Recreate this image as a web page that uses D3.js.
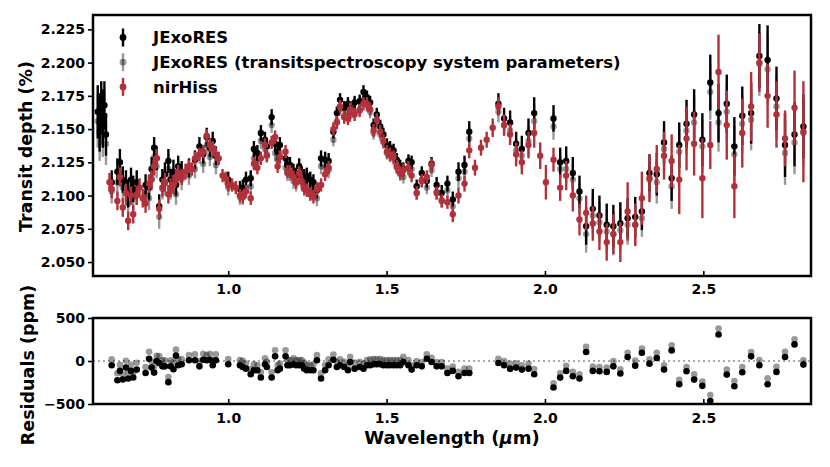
<!DOCTYPE html>
<html>
<head>
<meta charset="utf-8">
<script src="https://cdn.jsdelivr.net/npm/d3@7/dist/d3.min.js"></script>
<style>
  body { margin: 0; background: #fff; }
  svg { font-family: "DejaVu Sans", sans-serif; font-weight: bold; }
</style>
</head>
<body>
<svg id="chart" width="830" height="467"></svg>
<script>
// [wavelength um, transit depth %, 1-sigma error]
const jexo = [
  [0.588,2.163,.020],[0.594,2.155,.022],[0.599,2.166,.020],[0.604,2.158,.022],[0.609,2.168,.018],[0.614,2.146,.016],
  [0.632,2.110,.009],[0.650,2.118,.010],[0.658,2.125,.010],[0.667,2.112,.010],[0.677,2.110,.009],[0.684,2.101,.010],
  [0.693,2.112,.009],[0.700,2.105,.010],[0.711,2.110,.009],[0.739,2.108,.008],[0.750,2.106,.009],[0.758,2.120,.009],
  [0.766,2.136,.008],[0.774,2.128,.009],[0.782,2.092,.009],[0.792,2.112,.008],[0.800,2.116,.009],[0.811,2.126,.009],
  [0.818,2.112,.008],[0.827,2.118,.009],[0.835,2.108,.008],[0.842,2.122,.008],[0.853,2.118,.008],[0.876,2.121,.007],
  [0.895,2.127,.007],[0.909,2.137,.007],[0.921,2.131,.007],[0.932,2.144,.007],[0.942,2.136,.007],[0.951,2.141,.007],
  [0.961,2.130,.007],[1.000,2.112,.006],
  [1.037,2.105,.006],[1.046,2.106,.006],[1.056,2.112,.006],[1.071,2.113,.006],[1.081,2.135,.006],[1.092,2.132,.006],
  [1.103,2.147,.006],[1.116,2.142,.006],[1.122,2.137,.006],[1.137,2.159,.006],[1.148,2.139,.006],[1.156,2.133,.006],
  [1.163,2.138,.006],[1.181,2.128,.006],[1.187,2.123,.006],[1.195,2.123,.006],[1.206,2.118,.006],[1.214,2.115,.006],
  [1.224,2.122,.006],[1.232,2.116,.006],[1.240,2.114,.006],[1.248,2.115,.006],[1.259,2.112,.006],[1.269,2.110,.006],
  [1.280,2.104,.006],[1.293,2.128,.006],[1.306,2.127,.006],[1.317,2.126,.006],[1.332,2.148,.005],[1.343,2.162,.005],
  [1.353,2.172,.005],[1.366,2.166,.005],[1.378,2.169,.005],[1.385,2.166,.005],[1.399,2.170,.005],[1.415,2.171,.005],
  [1.427,2.178,.005],[1.438,2.174,.005],[1.448,2.170,.005],[1.459,2.153,.005],[1.469,2.161,.005],[1.480,2.152,.005],
  [1.490,2.146,.005],[1.501,2.138,.005],[1.511,2.136,.005],[1.522,2.134,.005],[1.532,2.127,.005],[1.543,2.122,.005],
  [1.553,2.120,.005],[1.569,2.126,.005],[1.579,2.125,.005],[1.595,2.107,.005],[1.611,2.117,.005],[1.627,2.111,.005],
  [1.642,2.124,.005],[1.658,2.108,.006],[1.674,2.102,.006],[1.692,2.109,.006],[1.709,2.097,.006],[1.727,2.118,.007],
  [1.746,2.123,.007],[1.761,2.148,.008],
  [1.853,2.169,.008],[1.871,2.158,.008],[1.890,2.155,.009],[1.909,2.139,.009],[1.927,2.135,.010],[1.948,2.147,.011],
  [1.966,2.162,.012],
  [2.027,2.158,.010],[2.048,2.125,.011],[2.067,2.126,.011],[2.088,2.117,.012],[2.109,2.103,.012],[2.130,2.077,.014],
  [2.151,2.090,.015],[2.172,2.085,.015],[2.195,2.078,.016],[2.216,2.077,.016],[2.238,2.079,.016],[2.261,2.083,.015],
  [2.285,2.084,.015],[2.306,2.088,.014],[2.330,2.117,.014],[2.353,2.116,.016],[2.376,2.140,.016],[2.400,2.113,.017],
  [2.424,2.138,.017],[2.447,2.154,.018],[2.471,2.161,.019],[2.497,2.142,.020],[2.522,2.185,.021],[2.548,2.162,.022],
  [2.574,2.169,.022],[2.598,2.137,.022],[2.623,2.160,.022],[2.651,2.162,.023],[2.677,2.205,.024],[2.703,2.202,.026],
  [2.731,2.173,.024],[2.758,2.138,.024],[2.788,2.146,.024],[2.816,2.152,.024]
];

const jexoAlt = [
  [0.588,2.156,.020],[0.594,2.148,.022],[0.599,2.158,.020],[0.604,2.151,.022],[0.609,2.160,.018],[0.614,2.139,.016],
  [0.632,2.103,.009],[0.650,2.110,.010],[0.658,2.118,.010],[0.667,2.106,.010],[0.677,2.102,.009],[0.684,2.094,.010],
  [0.693,2.105,.009],[0.700,2.099,.010],[0.711,2.102,.009],[0.739,2.101,.008],[0.750,2.098,.009],[0.758,2.113,.009],
  [0.766,2.129,.008],[0.774,2.122,.009],[0.782,2.084,.009],[0.792,2.105,.008],[0.800,2.109,.009],[0.811,2.120,.009],
  [0.818,2.105,.008],[0.827,2.110,.009],[0.835,2.101,.008],[0.842,2.115,.008],[0.853,2.112,.008],[0.876,2.115,.007],
  [0.895,2.120,.007],[0.909,2.131,.007],[0.921,2.124,.007],[0.932,2.138,.007],[0.942,2.129,.007],[0.951,2.135,.007],
  [0.961,2.123,.007],[1.000,2.106,.006],
  [1.037,2.099,.006],[1.046,2.099,.006],[1.056,2.106,.006],[1.071,2.107,.006],[1.081,2.128,.006],[1.092,2.126,.006],
  [1.103,2.141,.006],[1.116,2.135,.006],[1.122,2.131,.006],[1.137,2.153,.006],[1.148,2.132,.006],[1.156,2.127,.006],
  [1.163,2.132,.006],[1.181,2.121,.006],[1.187,2.117,.006],[1.195,2.117,.006],[1.206,2.111,.006],[1.214,2.109,.006],
  [1.224,2.116,.006],[1.232,2.110,.006],[1.240,2.107,.006],[1.248,2.109,.006],[1.259,2.106,.006],[1.269,2.103,.006],
  [1.280,2.098,.006],[1.293,2.122,.006],[1.306,2.121,.006],[1.317,2.119,.006],[1.332,2.142,.005],[1.343,2.156,.005],
  [1.353,2.165,.005],[1.366,2.160,.005],[1.378,2.163,.005],[1.385,2.160,.005],[1.399,2.163,.005],[1.415,2.165,.005],
  [1.427,2.172,.005],[1.438,2.168,.005],[1.448,2.163,.005],[1.459,2.147,.005],[1.469,2.155,.005],[1.480,2.146,.005],
  [1.490,2.140,.005],[1.501,2.132,.005],[1.511,2.130,.005],[1.522,2.128,.005],[1.532,2.121,.005],[1.543,2.116,.005],
  [1.553,2.114,.005],[1.569,2.120,.005],[1.579,2.120,.005],[1.595,2.102,.005],[1.611,2.112,.005],[1.627,2.106,.005],
  [1.642,2.119,.005],[1.658,2.103,.006],[1.674,2.097,.006],[1.692,2.104,.006],[1.709,2.092,.006],[1.727,2.113,.007],
  [1.746,2.118,.007],[1.761,2.143,.008],
  [1.853,2.163,.008],[1.871,2.153,.008],[1.890,2.149,.009],[1.909,2.134,.009],[1.927,2.130,.010],[1.948,2.141,.011],
  [1.966,2.156,.012],
  [2.027,2.152,.010],[2.048,2.120,.011],[2.067,2.120,.011],[2.088,2.112,.012],[2.109,2.098,.012],[2.130,2.071,.014],
  [2.151,2.085,.015],[2.172,2.080,.015],[2.195,2.073,.016],[2.216,2.071,.016],[2.238,2.074,.016],[2.261,2.078,.015],
  [2.285,2.078,.015],[2.306,2.083,.014],[2.330,2.112,.014],[2.353,2.110,.016],[2.376,2.135,.016],[2.400,2.107,.017],
  [2.424,2.133,.017],[2.447,2.149,.018],[2.471,2.155,.019],[2.497,2.137,.020],[2.522,2.178,.021],[2.548,2.155,.022],
  [2.574,2.163,.022],[2.598,2.131,.022],[2.623,2.154,.022],[2.651,2.157,.023],[2.677,2.199,.024],[2.703,2.195,.026],
  [2.731,2.167,.024],[2.758,2.132,.024],[2.788,2.140,.024],[2.816,2.147,.024]
];

const nirhiss = [
  [0.625,2.110,.007],[0.632,2.105,.007],[0.650,2.096,.007],[0.658,2.114,.007],[0.667,2.091,.007],[0.677,2.102,.007],
  [0.684,2.081,.007],[0.693,2.100,.007],[0.700,2.086,.007],[0.711,2.100,.007],[0.720,2.106,.007],[0.730,2.098,.007],
  [0.739,2.094,.007],[0.750,2.109,.007],[0.758,2.112,.007],[0.766,2.122,.007],[0.774,2.128,.007],[0.782,2.090,.007],
  [0.792,2.106,.007],[0.800,2.110,.007],[0.811,2.101,.007],[0.818,2.106,.007],[0.827,2.108,.007],[0.835,2.114,.006],
  [0.842,2.117,.006],[0.853,2.114,.006],[0.865,2.118,.006],[0.876,2.122,.005],[0.885,2.120,.005],[0.895,2.128,.005],
  [0.909,2.131,.005],[0.921,2.133,.005],[0.932,2.145,.005],[0.942,2.138,.005],[0.951,2.136,.005],[0.961,2.131,.005],
  [0.970,2.128,.005],[0.982,2.115,.005],[0.992,2.113,.005],[1.000,2.108,.005],[1.012,2.108,.005],[1.024,2.106,.005],
  [1.037,2.100,.005],[1.046,2.099,.005],[1.056,2.103,.005],[1.071,2.098,.005],[1.081,2.124,.005],[1.092,2.121,.005],
  [1.103,2.128,.005],[1.116,2.138,.005],[1.122,2.130,.005],[1.137,2.140,.005],[1.148,2.144,.005],[1.156,2.122,.005],
  [1.163,2.129,.005],[1.181,2.133,.005],[1.187,2.118,.005],[1.195,2.118,.005],[1.206,2.114,.005],[1.214,2.110,.005],
  [1.224,2.117,.005],[1.232,2.111,.005],[1.240,2.105,.005],[1.248,2.104,.005],[1.259,2.101,.005],[1.269,2.099,.005],
  [1.280,2.105,.005],[1.293,2.108,.005],[1.306,2.116,.005],[1.317,2.121,.005],[1.332,2.150,.005],[1.343,2.155,.005],
  [1.353,2.167,.005],[1.366,2.159,.005],[1.378,2.158,.005],[1.385,2.165,.005],[1.399,2.161,.005],[1.415,2.164,.005],
  [1.427,2.169,.005],[1.438,2.169,.005],[1.448,2.165,.005],[1.459,2.149,.005],[1.469,2.157,.005],[1.480,2.148,.005],
  [1.490,2.141,.005],[1.501,2.133,.005],[1.511,2.131,.005],[1.522,2.129,.005],[1.532,2.122,.005],[1.543,2.117,.005],
  [1.553,2.119,.005],[1.569,2.121,.005],[1.579,2.115,.005],[1.595,2.102,.005],[1.611,2.111,.005],[1.627,2.114,.005],
  [1.642,2.123,.005],[1.658,2.102,.005],[1.674,2.096,.005],[1.692,2.095,.005],[1.709,2.086,.006],[1.727,2.100,.006],
  [1.746,2.109,.006],[1.761,2.134,.006],[1.779,2.121,.006],[1.798,2.136,.006],[1.816,2.142,.006],[1.835,2.151,.007],
  [1.853,2.167,.007],[1.871,2.153,.008],[1.890,2.146,.008],[1.909,2.131,.009],[1.927,2.125,.009],[1.948,2.138,.010],
  [1.966,2.147,.011],[1.985,2.130,.010],[2.003,2.110,.013],
  [2.027,2.127,.009],[2.048,2.106,.010],[2.067,2.115,.011],[2.088,2.100,.012],[2.109,2.082,.012],[2.130,2.087,.013],
  [2.151,2.079,.013],[2.172,2.073,.014],[2.195,2.065,.014],[2.216,2.071,.015],[2.238,2.065,.015],[2.261,2.088,.022],
  [2.285,2.078,.016],[2.306,2.098,.020],[2.330,2.113,.018],[2.353,2.120,.018],[2.376,2.130,.018],[2.400,2.126,.020],
  [2.424,2.112,.026],[2.447,2.143,.024],[2.471,2.139,.024],[2.497,2.113,.030],[2.522,2.138,.018],[2.548,2.193,.028],
  [2.574,2.153,.026],[2.598,2.107,.024],[2.623,2.147,.026],[2.651,2.167,.026],[2.677,2.200,.022],[2.703,2.175,.024],
  [2.731,2.161,.025],[2.758,2.143,.021],[2.788,2.166,.028],[2.816,2.148,.038]
];

// residuals in ppm, [wavelength um, ppm]
const resJexo = [
  [0.632,-50],[0.650,-223],[0.658,-115],[0.667,-215],[0.677,-77],[0.684,-204],[0.693,-115],[0.700,-192],[0.711,-100],
  [0.739,-139],[0.750,27],[0.758,-77],[0.766,-135],[0.774,0],[0.782,-23],[0.792,-62],[0.800,-62],[0.811,-246],
  [0.818,-62],[0.827,-96],[0.835,62],[0.842,-50],[0.853,-38],[0.876,8],[0.895,8],[0.909,-62],[0.921,15],[0.932,8],
  [0.942,15],[0.951,-50],[0.961,8],[1.000,-38],
  [1.037,-50],[1.046,-69],[1.056,-89],[1.071,-154],[1.081,-108],[1.092,-108],[1.103,-192],[1.116,-38],[1.122,-69],
  [1.137,-192],[1.148,54],[1.156,-108],[1.163,-89],[1.181,54],[1.187,-50],[1.195,-50],[1.206,-38],[1.214,-50],
  [1.224,-50],[1.232,-50],[1.240,-89],[1.248,-108],[1.259,-108],[1.269,-108],[1.280,8],[1.293,-204],[1.306,-108],
  [1.317,-50],[1.332,15],[1.343,-69],[1.353,-50],[1.366,-69],[1.378,-108],[1.385,-12],[1.399,-89],[1.415,-69],
  [1.427,-89],[1.438,-50],[1.448,-50],[1.459,-38],[1.469,-38],[1.480,-38],[1.490,-50],[1.501,-50],[1.511,-50],
  [1.522,-50],[1.532,-50],[1.543,-50],[1.553,-12],[1.569,-50],[1.579,-100],[1.595,-50],[1.611,-62],[1.627,27],
  [1.642,-12],[1.658,-62],[1.674,-62],[1.692,-139],[1.709,-115],[1.727,-177],[1.746,-139],[1.761,-139],
  [1.853,-23],[1.871,-50],[1.890,-89],[1.909,-77],[1.927,-100],[1.948,-89],[1.966,-154],
  [2.027,-308],[2.048,-193],[2.067,-115],[2.088,-177],[2.109,-204],[2.130,104],[2.151,-115],[2.172,-119],[2.195,-127],
  [2.216,-62],[2.238,-146],[2.261,46],[2.285,-54],[2.306,96],[2.330,-31],[2.353,35],[2.376,-100],[2.400,123],
  [2.424,-270],[2.447,-119],[2.471,-216],[2.497,-289],[2.522,-466],[2.548,308],[2.574,-158],[2.598,-293],[2.623,-131],
  [2.651,54],[2.677,-50],[2.703,-270],[2.731,-127],[2.758,46],[2.788,193],[2.816,-42]
];

const resAlt = [
  [0.632,20],[0.650,-143],[0.658,-45],[0.667,-155],[0.677,3],[0.684,-134],[0.693,-45],[0.700,-132],[0.711,-20],
  [0.739,-69],[0.750,107],[0.758,-7],[0.766,-65],[0.774,60],[0.782,57],[0.792,8],[0.800,8],[0.811,-186],
  [0.818,8],[0.827,-16],[0.835,132],[0.842,20],[0.853,22],[0.876,68],[0.895,78],[0.909,-2],[0.921,85],[0.932,68],
  [0.942,85],[0.951,10],[0.961,78],[1.000,22],
  [1.037,10],[1.046,1],[1.056,-29],[1.071,-94],[1.081,-38],[1.092,-48],[1.103,-132],[1.116,32],[1.122,-9],
  [1.137,-132],[1.148,124],[1.156,-48],[1.163,-29],[1.181,124],[1.187,10],[1.195,10],[1.206,32],[1.214,10],
  [1.224,10],[1.232,10],[1.240,-19],[1.248,-48],[1.259,-48],[1.269,-38],[1.280,68],[1.293,-144],[1.306,-48],
  [1.317,20],[1.332,75],[1.343,-9],[1.353,20],[1.366,-9],[1.378,-48],[1.385,48],[1.399,-19],[1.415,-9],
  [1.427,-29],[1.438,10],[1.448,20],[1.459,22],[1.469,22],[1.480,22],[1.490,10],[1.501,10],[1.511,10],
  [1.522,10],[1.532,10],[1.543,10],[1.553,48],[1.569,10],[1.579,-50],[1.595,0],[1.611,-12],[1.627,77],
  [1.642,38],[1.658,-12],[1.674,-12],[1.692,-89],[1.709,-65],[1.727,-127],[1.746,-89],[1.761,-89],
  [1.853,27],[1.871,0],[1.890,-29],[1.909,-27],[1.927,-50],[1.948,-29],[1.966,-94],
  [2.027,-258],[2.048,-143],[2.067,-55],[2.088,-127],[2.109,-154],[2.130,164],[2.151,-65],[2.172,-69],[2.195,-77],
  [2.216,-2],[2.238,-96],[2.261,96],[2.285,6],[2.306,146],[2.330,19],[2.353,95],[2.376,-50],[2.400,183],
  [2.424,-220],[2.447,-69],[2.471,-156],[2.497,-239],[2.522,-396],[2.548,378],[2.574,-98],[2.598,-233],[2.623,-71],
  [2.651,104],[2.677,10],[2.703,-200],[2.731,-67],[2.758,106],[2.788,253],[2.816,8]
];

const depthTicks = [2.050, 2.075, 2.100, 2.125, 2.150, 2.175, 2.200, 2.225];
const wlTicks = [1.0, 1.5, 2.0, 2.5];
const resTicks = [-500, 0, 500];
const seriesNames = ["JExoRES", "JExoRES (transitspectroscopy system parameters)", "nirHiss"];

const red = "#b3303a";
const svg = d3.select("#chart");
const main = { left: 93, right: 811, top: 15, bottom: 276 };
const bot = { top: 318, bottom: 404 };

const x = d3.scaleLinear().domain([0.573, 2.840]).range([main.left, main.right]);
const y = d3.scaleLinear().domain([2.0395, 2.2358]).range([main.bottom, main.top]);
const yr = d3.scaleLinear().domain([-500, 500]).range([bot.bottom, bot.top]);

const defs = svg.append("defs");
defs.append("clipPath").attr("id", "clipTop").append("rect")
    .attr("x", main.left).attr("y", main.top)
    .attr("width", main.right - main.left).attr("height", main.bottom - main.top);
defs.append("clipPath").attr("id", "clipBot").append("rect")
    .attr("x", main.left).attr("y", bot.top)
    .attr("width", main.right - main.left).attr("height", bot.bottom - bot.top);

// errorbar series, bars first then markers (like matplotlib)
function drawSeries(data, color, opacity) {
    const g = svg.append("g").attr("clip-path", "url(#clipTop)");
    g.selectAll("line").data(data).join("line")
        .attr("x1", d => x(d[0])).attr("x2", d => x(d[0]))
        .attr("y1", d => y(d[1] - d[2])).attr("y2", d => y(d[1] + d[2]))
        .attr("stroke", color).attr("stroke-opacity", opacity)
        .attr("stroke-width", 2.4);
    g.selectAll("circle").data(data).join("circle")
        .attr("cx", d => x(d[0])).attr("cy", d => y(d[1]))
        .attr("r", 3.2)
        .attr("fill", color).attr("fill-opacity", opacity);
}

drawSeries(jexo, "#000", 1);
drawSeries(jexoAlt, "#000", 0.4);
drawSeries(nirhiss, red, 1);

// residual panel
svg.append("line")
    .attr("x1", main.left).attr("x2", main.right)
    .attr("y1", yr(0)).attr("y2", yr(0))
    .attr("stroke", "#aaa").attr("stroke-width", 1.8)
    .attr("stroke-dasharray", "2,3");

const rg = svg.append("g").attr("clip-path", "url(#clipBot)");
rg.append("g").selectAll("circle").data(resJexo).join("circle")
    .attr("cx", d => x(d[0])).attr("cy", d => yr(d[1]))
    .attr("r", 3.3).attr("fill", "#000");
rg.append("g").selectAll("circle").data(resAlt).join("circle")
    .attr("cx", d => x(d[0])).attr("cy", d => yr(d[1]))
    .attr("r", 3.3).attr("fill", "#000").attr("fill-opacity", 0.4);

// axes
function styleAxis(g) {
    g.select(".domain").remove();
    g.selectAll(".tick line").attr("stroke", "#000").attr("stroke-width", 1.6);
    g.selectAll(".tick text").attr("fill", "#000")
        .style("font-size", "14px").style("font-weight", "bold")
        .style("font-family", "'DejaVu Sans', sans-serif");
}

svg.append("g").attr("transform", `translate(${main.left},0)`)
    .call(d3.axisLeft(y).tickValues(depthTicks).tickFormat(d3.format(".3f")).tickSize(5).tickPadding(3))
    .call(styleAxis);
svg.append("g").attr("transform", `translate(0,${main.bottom})`)
    .call(d3.axisBottom(x).tickValues(wlTicks).tickFormat(d3.format(".1f")).tickSize(-5).tickPadding(8))
    .call(styleAxis);
svg.append("g").attr("transform", `translate(${main.left},0)`)
    .call(d3.axisLeft(yr).tickValues(resTicks).tickFormat(d3.format("d")).tickSize(5).tickPadding(3))
    .call(styleAxis);
svg.append("g").attr("transform", `translate(0,${bot.bottom})`)
    .call(d3.axisBottom(x).tickValues(wlTicks).tickFormat(d3.format(".1f")).tickSize(-5).tickPadding(9))
    .call(styleAxis);

// frames
svg.append("rect").attr("x", main.left).attr("y", main.top)
    .attr("width", main.right - main.left).attr("height", main.bottom - main.top)
    .attr("fill", "none").attr("stroke", "#000").attr("stroke-width", 2.5);
svg.append("rect").attr("x", main.left).attr("y", bot.top)
    .attr("width", main.right - main.left).attr("height", bot.bottom - bot.top)
    .attr("fill", "none").attr("stroke", "#000").attr("stroke-width", 2.5);

// axis labels
svg.append("text")
    .attr("transform", `translate(26,${(main.top + main.bottom) / 2 + 1}) rotate(-90)`)
    .attr("text-anchor", "middle").attr("dy", "0.35em")
    .style("font-size", "17.5px").text("Transit depth (%)");
svg.append("text")
    .attr("transform", `translate(28,${(bot.top + bot.bottom) / 2 + 4}) rotate(-90)`)
    .attr("text-anchor", "middle").attr("dy", "0.35em")
    .style("font-size", "17.5px").text("Residuals (ppm)");
const xl = svg.append("text")
    .attr("x", (main.left + main.right) / 2).attr("y", 444)
    .attr("text-anchor", "middle").style("font-size", "18px");
xl.append("tspan").text("Wavelength (");
xl.append("tspan").style("font-style", "italic").text("μ");
xl.append("tspan").text("m)");

// legend
const legend = svg.append("g");
const legColors = [["#000", 1], ["#000", 0.4], [red, 1]];
seriesNames.forEach((name, i) => {
    const cy = 37.5 + i * 24.7;
    legend.append("line")
        .attr("x1", 123).attr("x2", 123).attr("y1", cy - 9).attr("y2", cy + 9)
        .attr("stroke", legColors[i][0]).attr("stroke-opacity", legColors[i][1]).attr("stroke-width", 2.4);
    legend.append("circle")
        .attr("cx", 123).attr("cy", cy).attr("r", 3.4)
        .attr("fill", legColors[i][0]).attr("fill-opacity", legColors[i][1]);
    legend.append("text")
        .attr("x", 153).attr("y", cy).attr("dy", "0.36em")
        .style("font-size", "16.5px").text(name);
});
</script>
</body>
</html>
